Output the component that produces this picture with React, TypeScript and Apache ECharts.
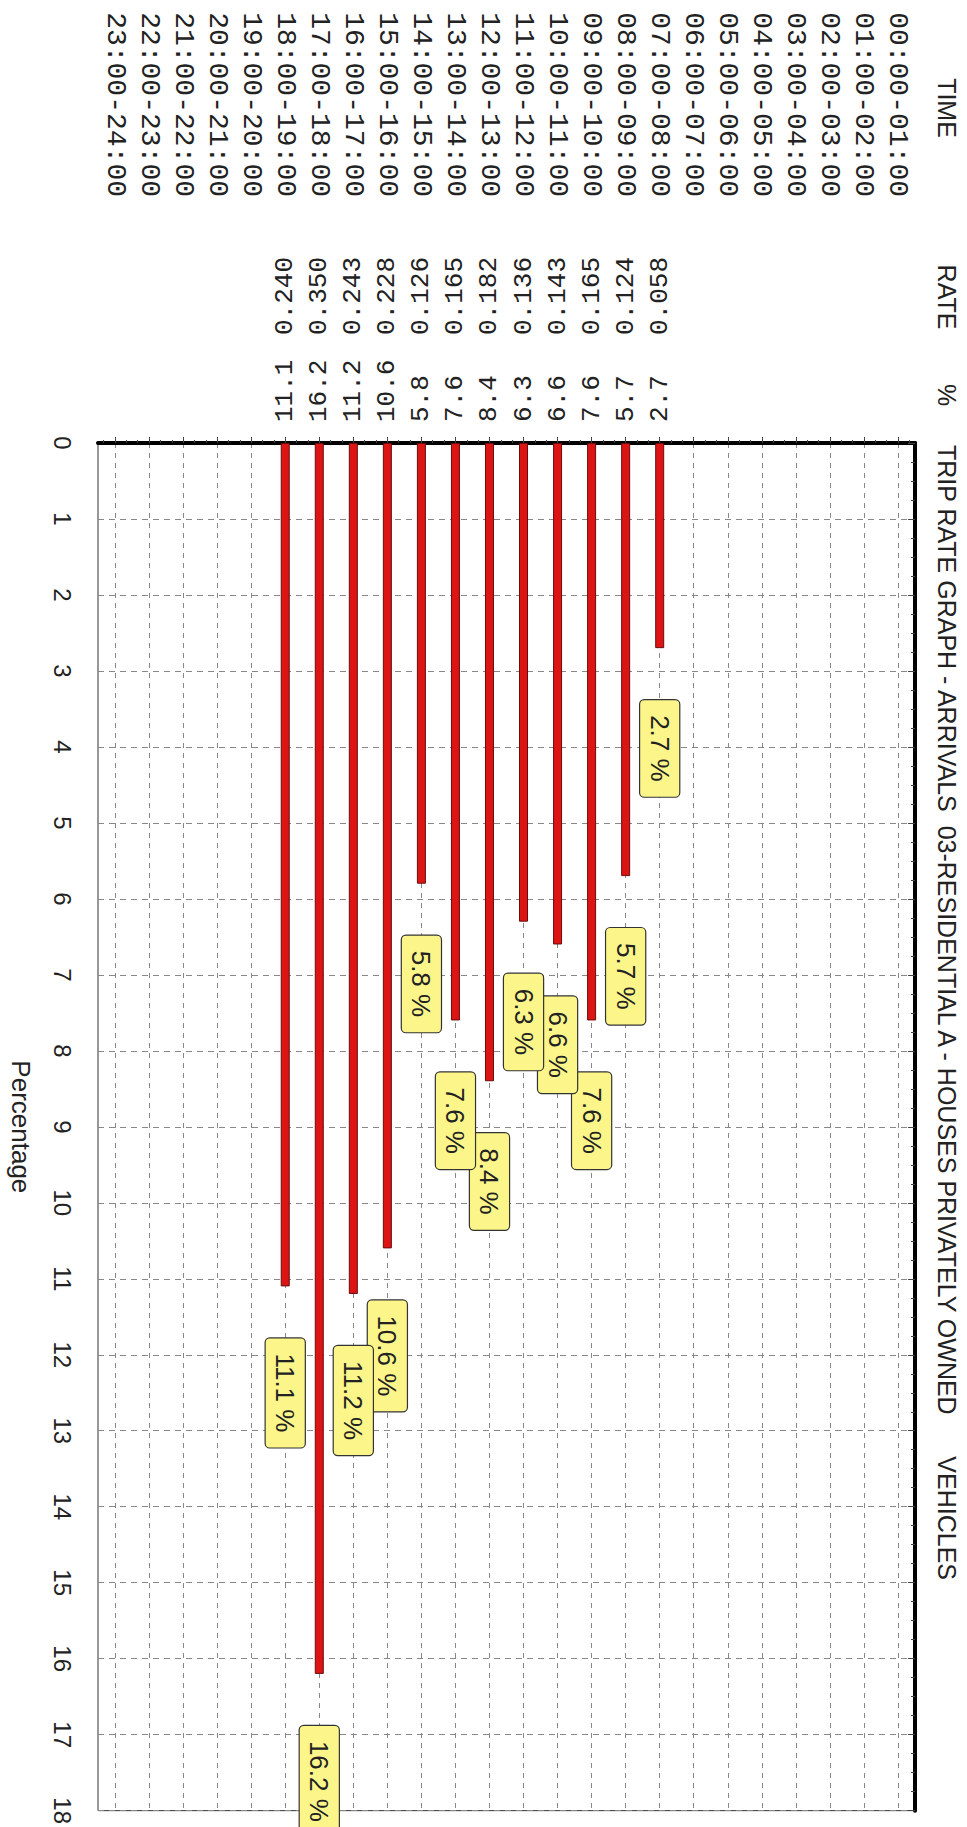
import React, { useEffect, useRef } from 'react';
import * as echarts from 'echarts';

const timeSlots = [
  '00:00-01:00', '01:00-02:00', '02:00-03:00', '03:00-04:00', '04:00-05:00', '05:00-06:00',
  '06:00-07:00', '07:00-08:00', '08:00-09:00', '09:00-10:00', '10:00-11:00', '11:00-12:00',
  '12:00-13:00', '13:00-14:00', '14:00-15:00', '15:00-16:00', '16:00-17:00', '17:00-18:00',
  '18:00-19:00', '19:00-20:00', '20:00-21:00', '21:00-22:00', '22:00-23:00', '23:00-24:00',
];

const tripRates: (number | null)[] = [
  null, null, null, null, null, null, null,
  0.058, 0.124, 0.165, 0.143, 0.136, 0.182, 0.165, 0.126, 0.228, 0.243, 0.350, 0.240,
  null, null, null, null, null,
];

const tripPercent: (number | null)[] = [
  null, null, null, null, null, null, null,
  2.7, 5.7, 7.6, 6.6, 6.3, 8.4, 7.6, 5.8, 10.6, 11.2, 16.2, 11.1,
  null, null, null, null, null,
];

const percentMin = 0;
const percentMax = 18;
const percentStep = 1;

const titleText = 'TRIP RATE GRAPH - ARRIVALS  03-RESIDENTIAL A - HOUSES PRIVATELY OWNED      VEHICLES';
const headerTime = 'TIME';
const headerRate = 'RATE';
const headerPct = '%';
const valueAxisName = 'Percentage';

const W = 967;
const H = 1827;

export default function App() {
  const ref = useRef<HTMLDivElement>(null);

  useEffect(() => {
    document.body.style.margin = '0';
    if (!ref.current) return;
    const chart = echarts.init(ref.current, null, { renderer: 'svg', width: W, height: H });

    const minorTickValues: number[] = [];
    for (let i = 0; i < timeSlots.length; i++) {
      minorTickValues.push(i + 1 / 6, i + 5 / 6);
    }

    const sans = 'Liberation Sans, Arial, sans-serif';
    const mono = 'Liberation Mono, Courier New, monospace';
    const rot = -Math.PI / 2;

    const headerText = (text: string, x: number, y: number, align: string) => ({
      type: 'text',
      x,
      y,
      rotation: rot,
      silent: true,
      style: {
        text,
        x: 0,
        y: 0,
        align,
        textAlign: align,
        verticalAlign: 'middle',
        textVerticalAlign: 'middle',
        fontSize: 25,
        fontFamily: sans,
        fill: '#222',
      },
    });

    const option: any = {
      animation: false,
      backgroundColor: '#ffffff',
      grid: {
        left: 87,
        right: 52,
        top: 443,
        bottom: 16,
        show: true,
        borderColor: '#333',
        borderWidth: 1,
      },
      xAxis: [
        {
          type: 'category',
          data: timeSlots,
          inverse: true,
          position: 'top',
          axisLine: { show: true, lineStyle: { color: '#000', width: 4 } },
          axisTick: { show: true, alignWithLabel: true, length: 6, lineStyle: { color: '#444', width: 1 } },
          splitLine: { show: true, alignWithLabel: true, lineStyle: { color: '#888', type: [5, 5], width: 1 } },
          axisLabel: {
            show: true,
            interval: 0,
            rotate: -90,
            margin: 246,
            fontSize: 28,
            fontFamily: mono,
            color: '#222',
          },
        },
        {
          type: 'category',
          data: timeSlots,
          inverse: true,
          position: 'top',
          axisLine: { show: false },
          axisTick: { show: false },
          splitLine: { show: false },
          axisLabel: {
            show: true,
            interval: 0,
            rotate: -90,
            margin: 108,
            fontSize: 26,
            fontFamily: mono,
            color: '#222',
            formatter: (_v: string, i: number) => (tripRates[i] != null ? (tripRates[i] as number).toFixed(3) : ''),
          },
        },
        {
          type: 'category',
          data: timeSlots,
          inverse: true,
          position: 'top',
          axisLine: { show: false },
          axisTick: { show: false },
          splitLine: { show: false },
          axisLabel: {
            show: true,
            interval: 0,
            rotate: -90,
            margin: 21,
            fontSize: 26,
            fontFamily: mono,
            color: '#222',
            formatter: (_v: string, i: number) => (tripPercent[i] != null ? (tripPercent[i] as number).toFixed(1) : ''),
          },
        },
        {
          type: 'value',
          min: 0,
          max: timeSlots.length,
          inverse: true,
          position: 'top',
          axisLine: { show: false },
          splitLine: { show: false },
          axisLabel: { show: false },
          axisTick: {
            show: true,
            length: 3,
            customValues: minorTickValues,
            lineStyle: { color: '#444', width: 1 },
          },
        },
      ],
      yAxis: {
        type: 'value',
        min: percentMin,
        max: percentMax,
        interval: percentStep,
        inverse: true,
        position: 'left',
        name: valueAxisName,
        nameLocation: 'middle',
        nameRotate: -90,
        nameGap: 64,
        nameTextStyle: { fontSize: 26, fontFamily: sans, color: '#222' },
        axisLine: { show: true, lineStyle: { color: '#000', width: 4 } },
        axisTick: { show: true, length: 7, lineStyle: { color: '#444', width: 1 } },
        minorTick: { show: true, splitNumber: 4, length: 4, lineStyle: { color: '#444', width: 1 } },
        splitLine: { show: true, lineStyle: { color: '#888', type: [6, 5], width: 1 } },
        minorSplitLine: { show: false },
        axisLabel: {
          rotate: -90,
          margin: 24,
          fontSize: 24,
          fontFamily: sans,
          color: '#222',
        },
      },
      series: [
        {
          type: 'bar',
          xAxisIndex: 0,
          yAxisIndex: 0,
          data: tripPercent,
          barWidth: 9,
          itemStyle: { color: '#dc1414', borderColor: '#6a0c0c', borderWidth: 1 },
          label: {
            show: true,
            position: 'bottom',
            distance: 52,
            rotate: -90,
            align: 'left',
            verticalAlign: 'middle',
            formatter: (p: any) => (p.value != null ? Number(p.value).toFixed(1) + ' %' : ''),
            fontSize: 26,
            lineHeight: 27,
            fontFamily: sans,
            color: '#222',
            backgroundColor: '#fcf68a',
            borderColor: '#333',
            borderWidth: 1.2,
            borderRadius: 4,
            padding: [6, 15, 6, 15],
          },
        },
      ],
      graphic: [
        headerText(headerTime, 947, 108, 'center'),
        headerText(headerRate, 947, 297, 'center'),
        headerText(headerPct, 947, 395, 'center'),
        headerText(titleText, 947, 445, 'left'),
      ],
    };

    chart.setOption(option);
    return () => {
      chart.dispose();
    };
  }, []);

  return (
    <div
      ref={ref}
      style={{ position: 'absolute', left: 0, top: 0, width: W, height: H, background: '#fff' }}
    />
  );
}
